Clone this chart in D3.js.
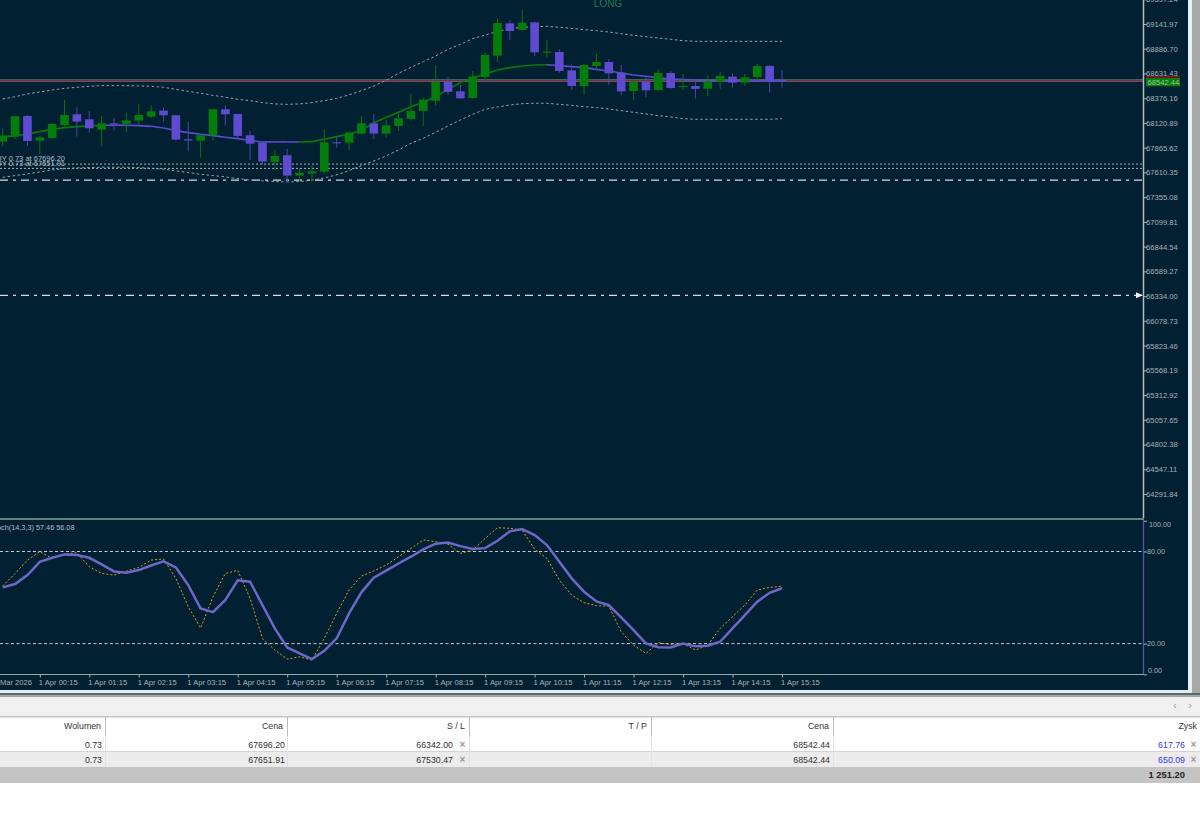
<!DOCTYPE html>
<html><head><meta charset="utf-8">
<script src="https://cdn.jsdelivr.net/npm/d3@7"></script>
<style>html,body{margin:0;padding:0;background:#fff;overflow:hidden}svg{display:block}text{font-family:"Liberation Sans",Arial,sans-serif}</style>
</head><body><svg id="c" width="1200" height="839"></svg>
<script>
const opens=[67928,67980,68193,67939,67966,68100,68210,68159,68052,68117,68111,68145,68186,68248,68200,67952,67939,67994,68262,68214,67994,67918,67719,67787,67578,67598,67619,67921,67918,68011,68117,68011,68090,68162,68245,68351,68544,68447,68379,68595,68815,69149,69080,69159,68846,68853,68664,68502,68709,68750,68640,68451,68544,68461,68637,68492,68502,68475,68547,68599,68537,68595,68709,68564];
const closes=[67990,68190,67935,67973,68111,68203,68135,68066,68117,68114,68148,68203,68241,68200,67949,67939,67994,68262,68210,67987,67908,67722,67780,67578,67605,67622,67921,67915,68021,68117,68011,68097,68169,68245,68362,68544,68441,68375,68602,68822,69152,69070,69156,68850,68857,68657,68502,68719,68750,68633,68447,68547,68458,68637,68482,68502,68472,68547,68606,68537,68592,68709,68547,68551];
const highs=[68066,68190,68203,67987,68117,68358,68282,68241,68193,68172,68227,68317,68303,68282,68203,68131,67997,68262,68303,68214,68038,67928,67846,67853,67653,67677,68049,67980,68031,68193,68214,68152,68238,68427,68382,68712,68592,68513,68657,68846,69197,69183,69286,69166,68977,68881,68726,68729,68833,68778,68719,68547,68606,68674,68657,68626,68571,68612,68647,68633,68626,68729,68719,68667];
const lows=[67877,67952,67884,67801,67959,68066,67980,68021,67877,68042,68031,68100,68172,68135,67939,67835,67763,67939,68093,67963,67739,67694,67636,67516,67516,67526,67602,67866,67842,68004,67952,67973,68038,68145,68090,68296,68410,68372,68375,68547,68750,68977,69080,68812,68798,68640,68461,68410,68674,68513,68410,68358,68386,68454,68475,68461,68372,68399,68472,68485,68502,68561,68434,68485];
const bandMid=[67980,67987,68007,68031,68056,68073,68083,68090,68097,68097,68097,68093,68086,68069,68042,68021,68004,67990,67973,67959,67939,67925,67925,67925,67924,67928,67952,67980,68007,68042,68124,68176,68231,68289,68334,68392,68468,68537,68588,68626,68667,68692,68709,68719,68722,68712,68702,68692,68674,68657,68637,68616,68602,68588,68575,68568,68564,68561,68557,68554,68554,68554,68554,68554];
const bandUp=[68368,68392,68420,68441,68461,68478,68489,68499,68506,68506,68506,68502,68499,68489,68468,68447,68427,68406,68386,68365,68351,68331,68317,68313,68317,68331,68351,68375,68410,68454,68502,68561,68633,68695,68753,68812,68881,68932,68991,69028,69066,69094,69108,69114,69118,69108,69097,69084,69073,69059,69042,69025,69011,68998,68984,68970,68963,68963,68963,68963,68963,68963,68963,68963];
const bandLow=[67560,67578,67595,67615,67636,67650,67657,67660,67664,67664,67664,67660,67653,67643,67626,67609,67591,67578,67564,67547,67533,67523,67516,67512,67516,67530,67554,67585,67629,67681,67729,67780,67842,67911,67963,68025,68090,68152,68210,68262,68286,68306,68320,68324,68324,68313,68303,68289,68279,68265,68248,68231,68214,68196,68183,68165,68159,68159,68159,68159,68159,68159,68159,68165];
const stochMain=[56.6,58.8,64.6,73.3,75.9,78.1,77.7,75.9,71.6,67.0,66.2,67.9,70.9,73.6,69.6,58.1,42.9,40.5,48.4,61.2,60.3,45.1,29.9,17.5,13.6,9.9,15.3,23.4,39.7,53.4,62.9,67.5,72.2,76.6,81.4,85.1,85.9,83.5,81.6,82.2,87.0,93.1,94.6,90.7,84.2,73.3,62.5,53.8,47.5,45.1,37.1,28.8,20.1,17.7,17.5,20.1,18.2,18.6,21.2,29.9,38.6,47.3,53.1,56.08];
const stochSignal=[57.5,65.7,74.4,79.9,75.5,78.3,79.2,70.1,65.7,64.6,67.3,69.6,74.4,75.1,62.5,44.0,30.1,50.5,65.7,67.7,49.4,23.4,15.8,9.9,11.4,9.3,23.4,39.7,54.9,64.0,67.3,71.2,76.6,82.0,87.5,86.4,84.8,78.8,80.9,88.5,95.5,95.1,94.0,81.4,75.5,61.4,51.6,46.6,44.7,44.4,27.7,19.0,13.6,20.6,19.3,20.1,15.8,19.0,29.9,37.5,45.1,54.9,56.6,57.46];
const priceTicks=[69397.24,69141.97,68886.70,68631.43,68376.16,68120.89,67865.62,67610.35,67355.08,67099.81,66844.54,66589.27,66334.00,66078.73,65823.46,65568.19,65312.92,65057.65,64802.38,64547.11,64291.84];
const stochTicks=[100,80,20,0];
const timeIdx=[-1,3,7,11,15,19,23,27,31,35,39,43,47,51,55,59,63];
const timeLabels=["31 Mar 2026","1 Apr 00:15","1 Apr 01:15","1 Apr 02:15","1 Apr 03:15","1 Apr 04:15","1 Apr 05:15","1 Apr 06:15","1 Apr 07:15","1 Apr 08:15","1 Apr 09:15","1 Apr 10:15","1 Apr 11:15","1 Apr 12:15","1 Apr 13:15","1 Apr 14:15","1 Apr 15:15"];
const orderLevels=[67696.20,67651.91];
const stopLevels=[67530.47,66342.00];
const orderNotes=["BUY 0.73 at 67696.20","BUY 0.73 at 67651.91"];
const bidDrawn=68560, bidLabel="68542.44";
const colHeads=["Wolumen","Cena","S / L","T / P","Cena","Zysk"];
const colEdges=[105,287,469,651,833,1197];
const row1=["0.73","67696.20","66342.00","","68542.44","617.76"];
const row2=["0.73","67651.91","67530.47","","68542.44","650.09"];
const totalProfit="1 251.20";

const BG="#012133",GREEN="#047d0a",PURPLE="#5f4bd0",AX="#a9b2b8";
const svg=d3.select("#c");
const x=d3.scaleLinear().domain([0,63]).range([2.7,782]);
const y=d3.scaleLinear().domain([69141.97,64291.84]).range([24,494]);
const ys=d3.scaleLinear().domain([0,100]).range([674.3,520.8]);
const idx=d3.range(opens.length);

// frame
svg.append("rect").attr("width",1200).attr("height",839).attr("fill","#fff");
svg.append("rect").attr("x",1192).attr("width",8).attr("height",697).attr("fill","#a9a9a9");
svg.append("rect").attr("x",1188).attr("width",4).attr("height",693).attr("fill","#e4f1f8");
svg.append("rect").attr("y",690).attr("width",1192).attr("height",3).attr("fill","#dcedf5");
svg.append("rect").attr("y",693).attr("width",1200).attr("height",2).attr("fill","#5b6b6b");
svg.append("rect").attr("y",695).attr("width",1200).attr("height",2).attr("fill","#a6a6a6");
svg.append("rect").attr("width",1188).attr("height",690).attr("fill",BG);

const defs=svg.append("defs");
defs.append("clipPath").attr("id","main").append("rect").attr("width",1143).attr("height",518);
defs.append("clipPath").attr("id","sub").append("rect").attr("y",520).attr("width",1143).attr("height",154);
const m=svg.append("g").attr("clip-path","url(#main)");

// levels
m.selectAll(".ord").data(orderLevels).join("line").attr("x1",0).attr("x2",1143).attr("y1",d=>y(d)).attr("y2",d=>y(d))
 .attr("stroke","#aab4b8").attr("stroke-dasharray","2,2").attr("stroke-width",1);
m.selectAll(".sl").data(stopLevels).join("line").attr("x1",0).attr("x2",1143).attr("y1",d=>y(d)).attr("y2",d=>y(d))
 .attr("stroke","#d6dae2").attr("stroke-dasharray","8,5,3,5").attr("stroke-width",1.4);
m.append("line").attr("x1",0).attr("x2",1143).attr("y1",y(bidDrawn)).attr("y2",y(bidDrawn)).attr("stroke","#3f6a62").attr("stroke-width",3);
m.append("line").attr("x1",0).attr("x2",1143).attr("y1",y(bidDrawn)).attr("y2",y(bidDrawn)).attr("stroke","#a3123f").attr("stroke-width",1);

// bands
const priceLine=d3.line().x((d,i)=>x(i)).y(d=>y(d));
[bandUp,bandLow].forEach(b=>m.append("path").attr("d",priceLine(b)).attr("fill","none").attr("stroke","#9aa3a8").attr("stroke-dasharray","2.5,2.5").attr("stroke-width",1));
idx.slice(1).forEach(i=>{
  m.append("line").attr("x1",x(i-1)).attr("x2",x(i)).attr("y1",y(bandMid[i-1])).attr("y2",y(bandMid[i]))
   .attr("stroke",bandMid[i]>bandMid[i-1]?GREEN:PURPLE).attr("stroke-width",1.6);
});

// candles
const col=i=>closes[i]>=opens[i]?GREEN:PURPLE;
m.selectAll(".w").data(idx).join("line").attr("x1",i=>x(i)).attr("x2",i=>x(i)).attr("y1",i=>y(highs[i])).attr("y2",i=>y(lows[i]))
 .attr("stroke",i=>closes[i]>=opens[i]?"#0a7212":"#4f45a8").attr("stroke-width",1);
m.selectAll(".b").data(idx).join("rect").attr("x",i=>x(i)-4.3).attr("width",8.6)
 .attr("y",i=>y(Math.max(opens[i],closes[i]))).attr("height",i=>Math.max(1,Math.abs(y(opens[i])-y(closes[i]))))
 .attr("fill",col);

// labels in chart
m.selectAll(".n").data(orderNotes).join("text").attr("x",65).attr("y",(d,i)=>y(orderLevels[0])-3+i*4.4).attr("text-anchor","end")
 .attr("font-size",7.5).attr("fill","#b4bec4").text(d=>d);
m.append("text").attr("x",608).attr("y",7).attr("text-anchor","middle").attr("font-size",10).attr("fill","#1c7d55").text("LONG");
m.append("path").attr("d",`M1136,${y(stopLevels[1])-3}L1143,${y(stopLevels[1])}L1136,${y(stopLevels[1])+3}Z`).attr("fill","#eef");

// price axis
svg.append("line").attr("x1",1143.5).attr("x2",1143.5).attr("y1",0).attr("y2",518).attr("stroke","#b5bcc2").attr("stroke-width",1.5);
const pa=svg.append("g").attr("transform","translate(1144,0)").call(d3.axisRight(y).tickValues(priceTicks).tickFormat(d3.format(".2f")).tickSize(3).tickPadding(0));
pa.select(".domain").remove();
pa.selectAll("line").attr("stroke",AX);
pa.selectAll("text").attr("font-size",7.6).attr("font-family","'Liberation Sans'").attr("fill",AX).attr("dx",-1);

// bid label
svg.append("rect").attr("x",1146).attr("y",78).attr("width",34).attr("height",8.3).attr("fill","#047d0a");
svg.append("text").attr("x",1147.5).attr("y",85).attr("font-size",7.6).attr("fill","#9fc89f").text(bidLabel);
svg.append("line").attr("x1",1146).attr("x2",1180).attr("y1",76.8).attr("y2",76.8).attr("stroke","#b3141f").attr("stroke-width",1.2);

// separator
svg.append("rect").attr("y",518).attr("width",1144).attr("height",2).attr("fill","#5f8480");

// stochastic pane
const s=svg.append("g").attr("clip-path","url(#sub)");
s.selectAll(".lv").data([80,20]).join("line").attr("x1",0).attr("x2",1143).attr("y1",d=>ys(d)).attr("y2",d=>ys(d))
 .attr("stroke","#c6ccd0").attr("stroke-dasharray","3,2.5").attr("stroke-width",1);
const stLine=d3.line().x((d,i)=>x(i)).y(d=>ys(d));
s.append("path").attr("d",stLine(stochSignal)).attr("fill","none").attr("stroke","#d6a21c").attr("stroke-dasharray","2,2").attr("stroke-width",1);
s.append("path").attr("d",stLine(stochMain)).attr("fill","none").attr("stroke","#6f66c6").attr("stroke-width",2.5);
s.append("text").attr("x",74.5).attr("y",530).attr("text-anchor","end").attr("font-size",7.3).attr("fill","#b4bec4")
 .text(`Stoch(14,3,3) ${stochSignal[63]} ${stochMain[63]}`);

svg.append("line").attr("x1",1143.5).attr("x2",1143.5).attr("y1",520).attr("y2",674).attr("stroke","#55589a").attr("stroke-width",1.3);
const sa=svg.append("g").attr("transform","translate(1144,0)").call(d3.axisRight(ys).tickValues(stochTicks).tickFormat(d3.format(".2f")).tickSize(3).tickPadding(0));
sa.select(".domain").remove();
sa.selectAll("line").attr("stroke",AX);
sa.selectAll("text").attr("font-size",7.2).attr("font-family","'Liberation Sans'").attr("fill",AX)
  .attr("transform",d=>d===100?"translate(2,3.5)":d===0?"translate(1,-4)":"translate(0,0)");

// time axis
svg.append("line").attr("x1",0).attr("x2",1144).attr("y1",674.5).attr("y2",674.5).attr("stroke","#9aa5aa");
const ta=svg.append("g").attr("transform","translate(0,674.5)").call(d3.axisBottom(x).tickValues(timeIdx).tickFormat(d=>timeLabels[timeIdx.indexOf(d)]).tickSize(3).tickPadding(2));
ta.select(".domain").remove();
ta.selectAll("line").attr("stroke",AX);
ta.selectAll("text").attr("text-anchor","start").attr("font-size",7.6).attr("font-family","'Liberation Sans'").attr("fill",AX).attr("dx",-1.5);

// table
svg.append("rect").attr("y",697).attr("width",1200).attr("height",20).attr("fill","#f0f0f0");
svg.append("rect").attr("y",716).attr("width",1200).attr("height",1.5).attr("fill","#c4c4c4");
svg.append("rect").attr("y",751).attr("width",1200).attr("height",1.5).attr("fill","#d4d4d4");
svg.append("rect").attr("y",752.5).attr("width",1200).attr("height",14.5).attr("fill","#ececec");
svg.append("rect").attr("y",767).attr("width",1200).attr("height",16).attr("fill","#c4c4c4");
colEdges.slice(0,5).forEach(e=>{
  svg.append("line").attr("x1",e+.5).attr("x2",e+.5).attr("y1",717).attr("y2",736).attr("stroke","#bdbdbd");
  svg.append("line").attr("x1",e+.5).attr("x2",e+.5).attr("y1",736).attr("y2",767).attr("stroke","#e2e2e2");
});
const tbl=(arr,yy,fn)=>svg.append("g").selectAll("text").data(arr).join("text")
  .attr("x",(d,i)=>fn(i)).attr("y",yy).attr("text-anchor","end").attr("font-size",8.8).attr("fill","#333").text(d=>d);
const headX=i=>i===5?1197:colEdges[i]-4;
const cellX=i=>[102,285,453,0,830,1185][i];
tbl(colHeads,729,headX);
[[row1,747.5],[row2,762.5]].forEach(([r,yy])=>{
  tbl(r,yy,cellX).attr("fill",(d,i)=>i===5?"#3333ee":"#333");
  [462.5,1193.5].forEach(mx=>svg.append("text").attr("x",mx).attr("y",yy).attr("text-anchor","middle").attr("font-size",10).attr("font-weight","bold").attr("fill","#999").text("×"));
});
svg.append("text").attr("x",1185).attr("y",778).attr("text-anchor","end").attr("font-size",9.4).attr("font-weight","bold").attr("fill","#222").text(totalProfit);
[["‹",1175],["›",1190]].forEach(([t,px])=>svg.append("text").attr("x",px).attr("y",709).attr("text-anchor","middle").attr("font-size",10).attr("fill","#999").text(t));
</script></body></html>
